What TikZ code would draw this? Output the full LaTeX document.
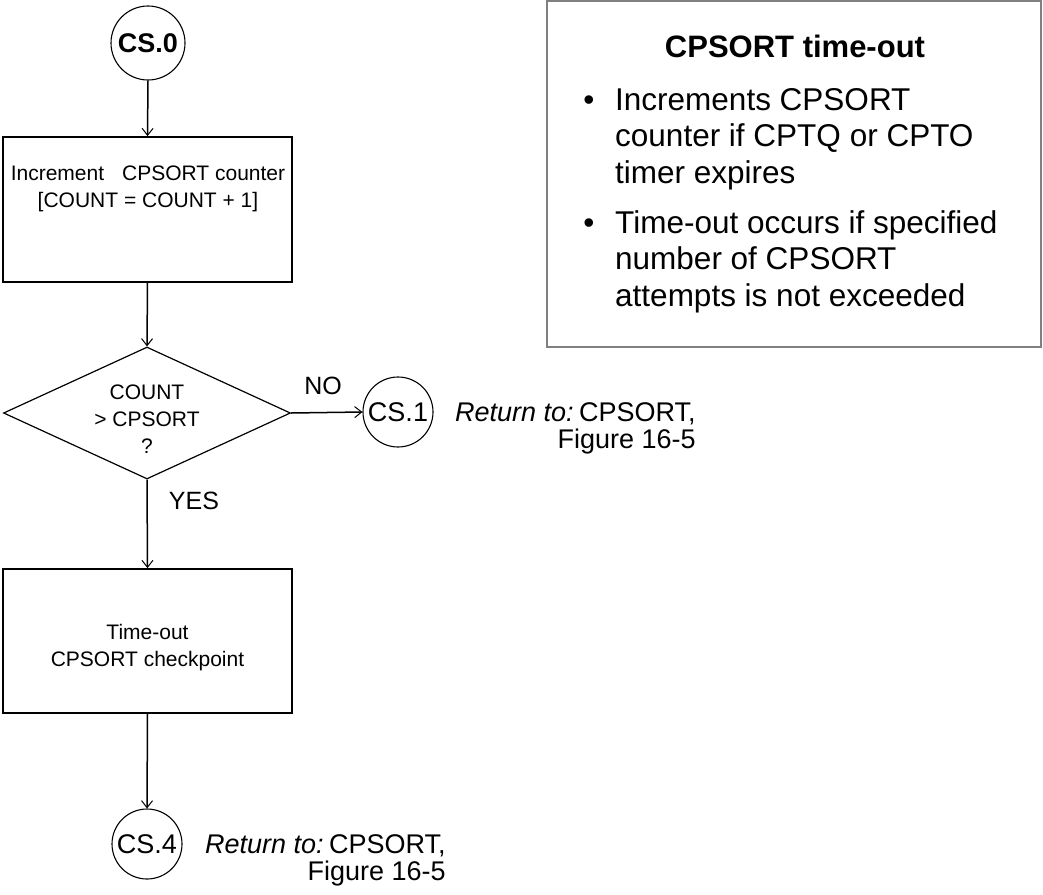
\documentclass[tikz,border=0pt]{standalone}
\usepackage{fontspec}
\setmainfont{Liberation Sans}
\usetikzlibrary{shapes.geometric,arrows.meta}
\definecolor{panelgray}{HTML}{808080}
\begin{document}
\begin{tikzpicture}[x=1pt,y=-1pt,
  flowbox/.style={draw,line width=1.8pt,minimum width=289pt,inner sep=0pt},
  conn/.style={draw,circle,line width=1.1pt,inner sep=0pt,minimum size=70pt,font=\fontsize{27}{30}\selectfont},
  boxtxt/.style={align=center,inner sep=0pt,font=\fontsize{21}{27}\selectfont},
  lbl/.style={inner sep=0pt,font=\fontsize{25}{28}\selectfont},
  ret/.style={inner sep=0pt,font=\fontsize{27}{27}\selectfont},
  arr/.style={line width=1.5pt,-{Straight Barb[length=7pt,width=11pt,line width=1pt]}},
  paneltxt/.style={inner sep=0pt,font=\fontsize{31.5}{36.7}\selectfont}
]
\useasboundingbox (0,0) rectangle (1043,894);

% flowchart
\node[conn,minimum size=74pt,font=\fontsize{27}{30}\selectfont\bfseries] (cs0) at (148,43) {CS.0};
\node[flowbox,minimum height=145pt] (b1) at (147.5,209.5) {};
\node[boxtxt] (b1t) at (148,189) {Increment\hspace{18pt}CPSORT counter\\{[}COUNT = COUNT + 1{]}};
\node[diamond,draw,line width=1.2pt,minimum width=287pt,minimum height=132pt,inner sep=0pt] (dia) at (147,413) {};
\node[boxtxt] (diat) at (147,419.5) {COUNT\\> CPSORT\\?};
\node[conn] (cs1) at (398,412) {CS.1};
\node[lbl,anchor=base] (no) at (323,394) {NO};
\node[ret,anchor=base west] (r1a) at (455,421) {\textit{Return to:}\hspace{0.2em}CPSORT,};
\node[ret,anchor=base east] (r1b) at ([yshift=-27pt]r1a.base east) {Figure 16-5};
\node[lbl,anchor=base] (yes) at (194,509) {YES};
\node[flowbox,minimum height=144pt] (b2) at (147.5,641) {};
\node[boxtxt] (b2t) at (147.5,648) {Time-out\\CPSORT checkpoint};
\node[conn] (cs4) at (147,844) {CS.4};
\node[ret,anchor=base west] (r4a) at (205,853) {\textit{Return to:}\hspace{0.2em}CPSORT,};
\node[ret,anchor=base east] (r4b) at ([yshift=-27pt]r4a.base east) {Figure 16-5};

\draw[arr] (cs0.south) -- (b1.north);
\draw[arr] (b1.south) -- (dia.north);
\draw[arr] (dia.east) -- (cs1.west);
\draw[arr] (dia.south) -- (b2.north);
\draw[arr] (b2.south) -- (cs4.north);

% info panel
\node[draw=panelgray,line width=2pt,minimum width=494pt,minimum height=346pt,inner sep=0pt] (panel) at (794,174) {};
\node[inner sep=0pt,anchor=base,font=\fontsize{31}{31}\selectfont\bfseries] (title) at (795,57) {CPSORT time-out};
\node[paneltxt,anchor=base] (bul1) at (589,110) {•};
\node[paneltxt,anchor=base west] (l1) at (615,110) {Increments CPSORT};
\node[paneltxt,anchor=base west] (l2) at (615,146.7) {counter if CPTQ or CPTO};
\node[paneltxt,anchor=base west] (l3) at (615,183.4) {timer expires};
\node[paneltxt,anchor=base] (bul2) at (589,233) {•};
\node[paneltxt,anchor=base west] (l4) at (615,233) {Time-out occurs if specified};
\node[paneltxt,anchor=base west] (l5) at (615,269.7) {number of CPSORT};
\node[paneltxt,anchor=base west] (l6) at (615,306.4) {attempts is not exceeded};
\end{tikzpicture}
\end{document}
